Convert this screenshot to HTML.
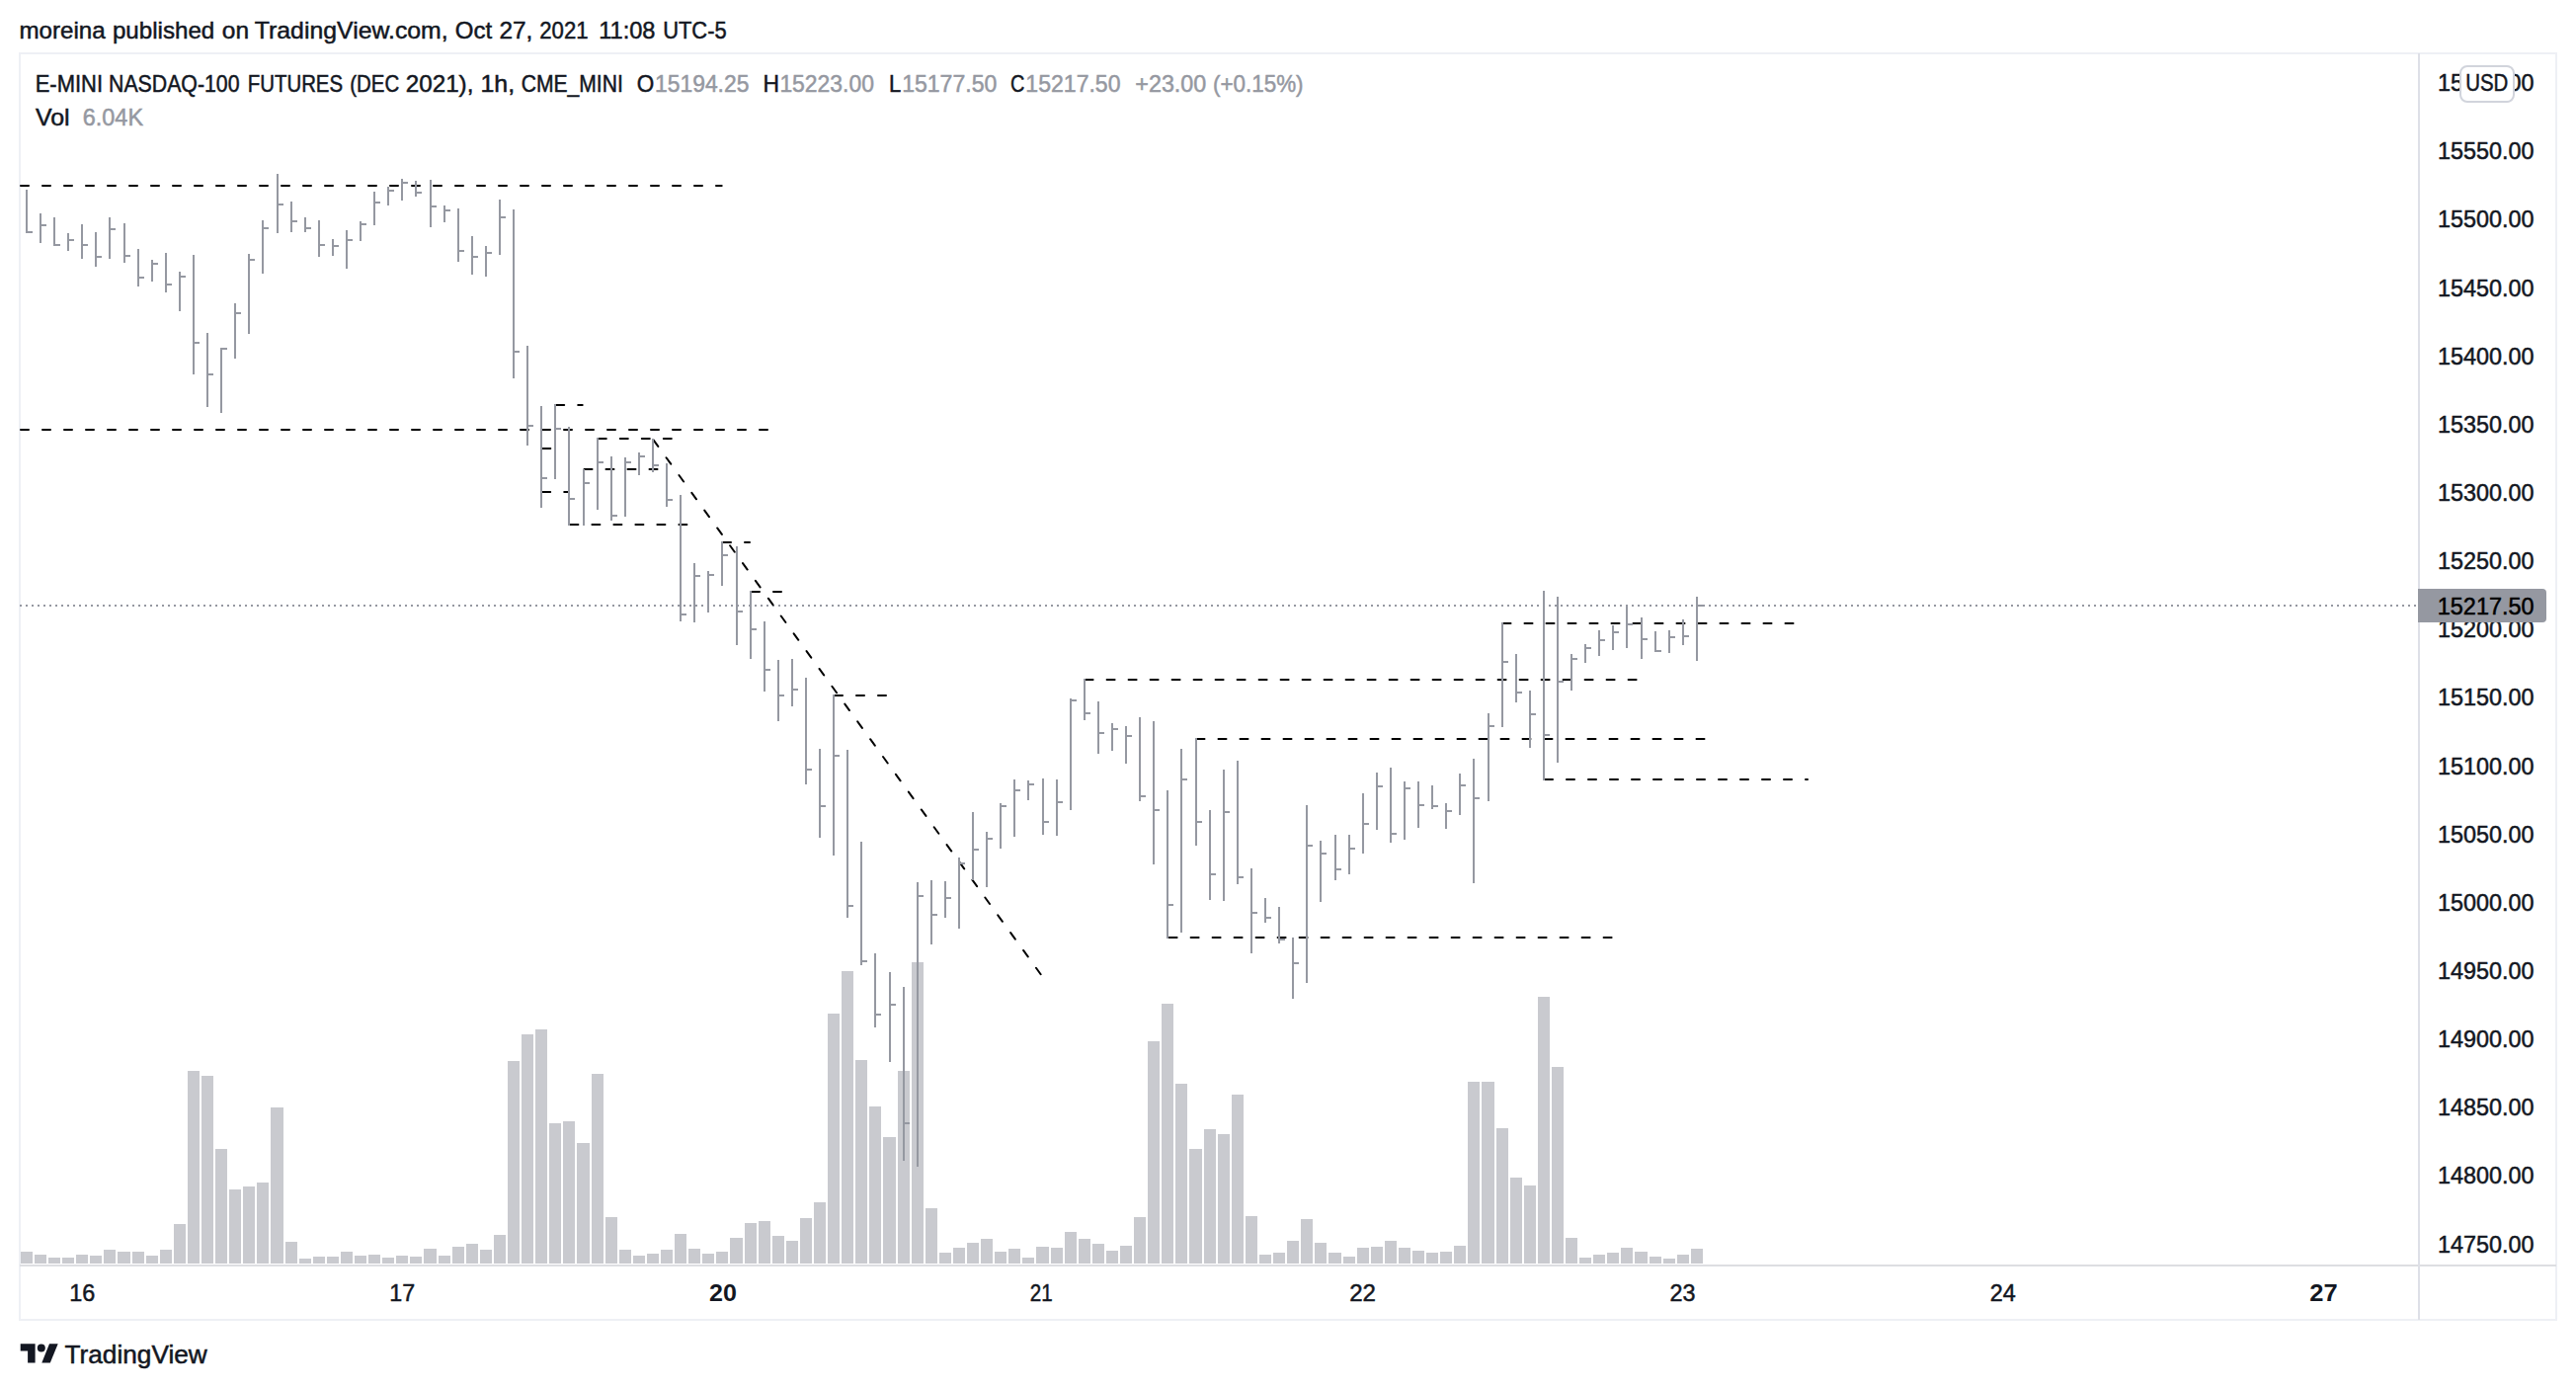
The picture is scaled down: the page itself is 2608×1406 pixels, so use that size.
<!DOCTYPE html>
<html><head><meta charset="utf-8"><title>E-MINI NASDAQ-100 FUTURES</title>
<style>html,body{margin:0;padding:0;background:#fff}svg{display:block}text{font-family:"Liberation Sans", sans-serif}</style></head><body>
<svg width="2608" height="1406" viewBox="0 0 2608 1406">
<rect width="2608" height="1406" fill="#fff"/>
<text y="38.9" font-size="24.5"><tspan x="19.53" fill="#131722" stroke="#131722" stroke-width="0.5" textLength="87.14" lengthAdjust="spacingAndGlyphs">moreina</tspan> <tspan x="113.93" fill="#131722" stroke="#131722" stroke-width="0.5" textLength="103.35" lengthAdjust="spacingAndGlyphs">published</tspan> <tspan x="224.82" fill="#131722" stroke="#131722" stroke-width="0.5" textLength="27.23" lengthAdjust="spacingAndGlyphs">on</tspan> <tspan x="257.8" fill="#131722" stroke="#131722" stroke-width="0.5" textLength="195.88" lengthAdjust="spacingAndGlyphs">TradingView.com,</tspan> <tspan x="460.82" fill="#131722" stroke="#131722" stroke-width="0.5" textLength="37.31" lengthAdjust="spacingAndGlyphs">Oct</tspan> <tspan x="505.38" fill="#131722" stroke="#131722" stroke-width="0.5" textLength="33.92" lengthAdjust="spacingAndGlyphs">27,</tspan> <tspan x="546.29" fill="#131722" stroke="#131722" stroke-width="0.5" textLength="49.3" lengthAdjust="spacingAndGlyphs">2021</tspan> <tspan x="606.13" fill="#131722" stroke="#131722" stroke-width="0.5" textLength="57.4" lengthAdjust="spacingAndGlyphs">11:08</tspan> <tspan x="671.16" fill="#131722" stroke="#131722" stroke-width="0.5" textLength="64.51" lengthAdjust="spacingAndGlyphs">UTC-5</tspan></text>
<rect x="20" y="54" width="2568" height="1282" fill="none" stroke="#eef0f5" stroke-width="2"/>
<rect x="20" y="1280" width="2568" height="2" fill="#dddee2"/>
<rect x="2448" y="54" width="2" height="1282" fill="#dee0e7"/>
<g fill="#c9cacf" shape-rendering="crispEdges">
<rect x="21" y="1267" width="12" height="12"/>
<rect x="35" y="1270" width="12" height="9"/>
<rect x="49" y="1273" width="12" height="6"/>
<rect x="63" y="1273" width="12" height="6"/>
<rect x="77" y="1270" width="12" height="9"/>
<rect x="91" y="1271" width="12" height="8"/>
<rect x="105" y="1265" width="12" height="14"/>
<rect x="119" y="1267" width="13" height="12"/>
<rect x="134" y="1267" width="12" height="12"/>
<rect x="148" y="1271" width="12" height="8"/>
<rect x="162" y="1265" width="12" height="14"/>
<rect x="176" y="1239" width="12" height="40"/>
<rect x="190" y="1084" width="12" height="195"/>
<rect x="204" y="1089" width="12" height="190"/>
<rect x="218" y="1163" width="12" height="116"/>
<rect x="232" y="1204" width="12" height="75"/>
<rect x="246" y="1201" width="12" height="78"/>
<rect x="260" y="1197" width="12" height="82"/>
<rect x="274" y="1121" width="13" height="158"/>
<rect x="289" y="1257" width="12" height="22"/>
<rect x="303" y="1274" width="12" height="5"/>
<rect x="317" y="1272" width="12" height="7"/>
<rect x="331" y="1272" width="12" height="7"/>
<rect x="345" y="1267" width="12" height="12"/>
<rect x="359" y="1271" width="12" height="8"/>
<rect x="373" y="1270" width="12" height="9"/>
<rect x="387" y="1273" width="12" height="6"/>
<rect x="401" y="1271" width="12" height="8"/>
<rect x="415" y="1272" width="12" height="7"/>
<rect x="429" y="1264" width="13" height="15"/>
<rect x="444" y="1271" width="12" height="8"/>
<rect x="458" y="1262" width="12" height="17"/>
<rect x="472" y="1259" width="12" height="20"/>
<rect x="486" y="1265" width="12" height="14"/>
<rect x="500" y="1250" width="12" height="29"/>
<rect x="514" y="1074" width="12" height="205"/>
<rect x="528" y="1047" width="12" height="232"/>
<rect x="542" y="1042" width="12" height="237"/>
<rect x="556" y="1137" width="12" height="142"/>
<rect x="570" y="1135" width="12" height="144"/>
<rect x="584" y="1157" width="13" height="122"/>
<rect x="599" y="1087" width="12" height="192"/>
<rect x="613" y="1232" width="12" height="47"/>
<rect x="627" y="1265" width="12" height="14"/>
<rect x="641" y="1271" width="12" height="8"/>
<rect x="655" y="1269" width="12" height="10"/>
<rect x="669" y="1265" width="12" height="14"/>
<rect x="683" y="1249" width="12" height="30"/>
<rect x="697" y="1264" width="12" height="15"/>
<rect x="711" y="1269" width="12" height="10"/>
<rect x="725" y="1267" width="12" height="12"/>
<rect x="739" y="1253" width="13" height="26"/>
<rect x="754" y="1238" width="12" height="41"/>
<rect x="768" y="1236" width="12" height="43"/>
<rect x="782" y="1251" width="12" height="28"/>
<rect x="796" y="1256" width="12" height="23"/>
<rect x="810" y="1233" width="12" height="46"/>
<rect x="824" y="1217" width="12" height="62"/>
<rect x="838" y="1026" width="12" height="253"/>
<rect x="852" y="983" width="12" height="296"/>
<rect x="866" y="1073" width="12" height="206"/>
<rect x="880" y="1120" width="12" height="159"/>
<rect x="894" y="1151" width="13" height="128"/>
<rect x="909" y="1084" width="12" height="195"/>
<rect x="923" y="974" width="12" height="305"/>
<rect x="937" y="1223" width="12" height="56"/>
<rect x="951" y="1268" width="12" height="11"/>
<rect x="965" y="1263" width="12" height="16"/>
<rect x="979" y="1258" width="12" height="21"/>
<rect x="993" y="1254" width="12" height="25"/>
<rect x="1007" y="1267" width="12" height="12"/>
<rect x="1021" y="1264" width="12" height="15"/>
<rect x="1035" y="1273" width="12" height="6"/>
<rect x="1049" y="1262" width="13" height="17"/>
<rect x="1064" y="1263" width="12" height="16"/>
<rect x="1078" y="1247" width="12" height="32"/>
<rect x="1092" y="1254" width="12" height="25"/>
<rect x="1106" y="1259" width="12" height="20"/>
<rect x="1120" y="1266" width="12" height="13"/>
<rect x="1134" y="1261" width="12" height="18"/>
<rect x="1148" y="1232" width="12" height="47"/>
<rect x="1162" y="1054" width="12" height="225"/>
<rect x="1176" y="1016" width="12" height="263"/>
<rect x="1190" y="1097" width="12" height="182"/>
<rect x="1204" y="1163" width="13" height="116"/>
<rect x="1219" y="1143" width="12" height="136"/>
<rect x="1233" y="1148" width="12" height="131"/>
<rect x="1247" y="1108" width="12" height="171"/>
<rect x="1261" y="1231" width="12" height="48"/>
<rect x="1275" y="1270" width="12" height="9"/>
<rect x="1289" y="1268" width="12" height="11"/>
<rect x="1303" y="1256" width="12" height="23"/>
<rect x="1317" y="1234" width="12" height="45"/>
<rect x="1331" y="1258" width="12" height="21"/>
<rect x="1345" y="1268" width="13" height="11"/>
<rect x="1360" y="1272" width="12" height="7"/>
<rect x="1374" y="1263" width="12" height="16"/>
<rect x="1388" y="1262" width="12" height="17"/>
<rect x="1402" y="1256" width="12" height="23"/>
<rect x="1416" y="1263" width="12" height="16"/>
<rect x="1430" y="1266" width="12" height="13"/>
<rect x="1444" y="1268" width="12" height="11"/>
<rect x="1458" y="1267" width="12" height="12"/>
<rect x="1472" y="1261" width="12" height="18"/>
<rect x="1486" y="1095" width="12" height="184"/>
<rect x="1500" y="1095" width="13" height="184"/>
<rect x="1515" y="1142" width="12" height="137"/>
<rect x="1529" y="1192" width="12" height="87"/>
<rect x="1543" y="1200" width="12" height="79"/>
<rect x="1557" y="1009" width="12" height="270"/>
<rect x="1571" y="1080" width="12" height="199"/>
<rect x="1585" y="1253" width="12" height="26"/>
<rect x="1599" y="1273" width="12" height="6"/>
<rect x="1613" y="1270" width="12" height="9"/>
<rect x="1627" y="1268" width="12" height="11"/>
<rect x="1641" y="1263" width="12" height="16"/>
<rect x="1655" y="1267" width="13" height="12"/>
<rect x="1670" y="1272" width="12" height="7"/>
<rect x="1684" y="1274" width="12" height="5"/>
<rect x="1698" y="1270" width="12" height="9"/>
<rect x="1712" y="1264" width="12" height="15"/>
</g>
<line x1="20" y1="613" x2="2448" y2="613" stroke="#9598a1" stroke-width="2" stroke-dasharray="2 4"/>
<g stroke="#000" stroke-width="2" stroke-dasharray="8 14" stroke-linecap="round" fill="none">
<line x1="21" y1="188" x2="730.7" y2="188"/>
<line x1="21" y1="435" x2="777" y2="435"/>
<line x1="549.3" y1="454" x2="557.3" y2="454"/>
<line x1="549.2" y1="498" x2="576" y2="498"/>
<line x1="563.2" y1="410" x2="589.7" y2="410"/>
<line x1="577.4" y1="531" x2="695.6" y2="531"/>
<line x1="591.5" y1="475" x2="666" y2="475"/>
<line x1="605.8" y1="444" x2="680" y2="444"/>
<line x1="661.6" y1="445.4" x2="1055" y2="988.1"/>
<line x1="732" y1="549" x2="759" y2="549"/>
<line x1="761" y1="599" x2="791.5" y2="599"/>
<line x1="845" y1="704" x2="898" y2="704"/>
<line x1="1098.6" y1="688" x2="1657" y2="688"/>
<line x1="1211.5" y1="748" x2="1726" y2="748"/>
<line x1="1183.6" y1="949" x2="1632" y2="949"/>
<line x1="1521.5" y1="631" x2="1817" y2="631"/>
<line x1="1564" y1="789" x2="1830" y2="789"/>
</g>
<g fill="#9598a1" shape-rendering="crispEdges">
<rect x="26" y="192" width="2" height="44"/>
<rect x="26" y="234" width="7" height="2"/>
<rect x="40" y="216" width="2" height="30"/>
<rect x="40" y="227" width="7" height="2"/>
<rect x="54" y="220" width="2" height="29"/>
<rect x="54" y="247" width="7" height="2"/>
<rect x="68" y="236" width="2" height="18"/>
<rect x="68" y="242" width="7" height="2"/>
<rect x="82" y="227" width="2" height="35"/>
<rect x="82" y="247" width="7" height="2"/>
<rect x="96" y="235" width="2" height="35"/>
<rect x="96" y="259" width="7" height="2"/>
<rect x="110" y="220" width="2" height="42"/>
<rect x="110" y="231" width="7" height="2"/>
<rect x="125" y="226" width="2" height="40"/>
<rect x="125" y="258" width="7" height="2"/>
<rect x="139" y="252" width="2" height="38"/>
<rect x="139" y="280" width="7" height="2"/>
<rect x="153" y="263" width="2" height="22"/>
<rect x="153" y="266" width="7" height="2"/>
<rect x="167" y="256" width="2" height="40"/>
<rect x="167" y="287" width="7" height="2"/>
<rect x="181" y="275" width="2" height="40"/>
<rect x="181" y="279" width="7" height="2"/>
<rect x="195" y="258" width="2" height="121"/>
<rect x="195" y="346" width="7" height="2"/>
<rect x="209" y="337" width="2" height="75"/>
<rect x="209" y="378" width="7" height="2"/>
<rect x="223" y="352" width="2" height="66"/>
<rect x="223" y="352" width="7" height="2"/>
<rect x="237" y="307" width="2" height="56"/>
<rect x="237" y="316" width="7" height="2"/>
<rect x="251" y="257" width="2" height="81"/>
<rect x="251" y="262" width="7" height="2"/>
<rect x="265" y="223" width="2" height="54"/>
<rect x="265" y="230" width="7" height="2"/>
<rect x="280" y="176" width="2" height="60"/>
<rect x="280" y="206" width="7" height="2"/>
<rect x="294" y="204" width="2" height="31"/>
<rect x="294" y="223" width="7" height="2"/>
<rect x="308" y="220" width="2" height="15"/>
<rect x="308" y="230" width="7" height="2"/>
<rect x="322" y="223" width="2" height="37"/>
<rect x="322" y="247" width="7" height="2"/>
<rect x="336" y="242" width="2" height="17"/>
<rect x="336" y="248" width="7" height="2"/>
<rect x="350" y="233" width="2" height="39"/>
<rect x="350" y="242" width="7" height="2"/>
<rect x="364" y="224" width="2" height="20"/>
<rect x="364" y="226" width="7" height="2"/>
<rect x="378" y="194" width="2" height="34"/>
<rect x="378" y="204" width="7" height="2"/>
<rect x="392" y="189" width="2" height="19"/>
<rect x="392" y="192" width="7" height="2"/>
<rect x="406" y="181" width="2" height="22"/>
<rect x="406" y="184" width="7" height="2"/>
<rect x="420" y="183" width="2" height="16"/>
<rect x="420" y="194" width="7" height="2"/>
<rect x="435" y="182" width="2" height="48"/>
<rect x="435" y="208" width="7" height="2"/>
<rect x="449" y="208" width="2" height="17"/>
<rect x="449" y="212" width="7" height="2"/>
<rect x="463" y="211" width="2" height="54"/>
<rect x="463" y="253" width="7" height="2"/>
<rect x="477" y="239" width="2" height="39"/>
<rect x="477" y="259" width="7" height="2"/>
<rect x="491" y="249" width="2" height="31"/>
<rect x="491" y="255" width="7" height="2"/>
<rect x="505" y="202" width="2" height="56"/>
<rect x="505" y="219" width="7" height="2"/>
<rect x="519" y="212" width="2" height="171"/>
<rect x="519" y="355" width="7" height="2"/>
<rect x="533" y="350" width="2" height="101"/>
<rect x="533" y="430" width="7" height="2"/>
<rect x="547" y="411" width="2" height="103"/>
<rect x="547" y="483" width="7" height="2"/>
<rect x="561" y="409" width="2" height="76"/>
<rect x="561" y="433" width="7" height="2"/>
<rect x="575" y="432" width="2" height="100"/>
<rect x="575" y="504" width="7" height="2"/>
<rect x="590" y="475" width="2" height="57"/>
<rect x="590" y="488" width="7" height="2"/>
<rect x="604" y="443" width="2" height="73"/>
<rect x="604" y="467" width="7" height="2"/>
<rect x="618" y="462" width="2" height="65"/>
<rect x="618" y="521" width="7" height="2"/>
<rect x="632" y="463" width="2" height="60"/>
<rect x="632" y="467" width="7" height="2"/>
<rect x="646" y="458" width="2" height="23"/>
<rect x="646" y="461" width="7" height="2"/>
<rect x="660" y="444" width="2" height="34"/>
<rect x="660" y="470" width="7" height="2"/>
<rect x="674" y="469" width="2" height="44"/>
<rect x="674" y="505" width="7" height="2"/>
<rect x="688" y="501" width="2" height="128"/>
<rect x="688" y="621" width="7" height="2"/>
<rect x="702" y="570" width="2" height="60"/>
<rect x="702" y="582" width="7" height="2"/>
<rect x="716" y="578" width="2" height="42"/>
<rect x="716" y="581" width="7" height="2"/>
<rect x="730" y="548" width="2" height="45"/>
<rect x="730" y="561" width="7" height="2"/>
<rect x="745" y="553" width="2" height="100"/>
<rect x="745" y="618" width="7" height="2"/>
<rect x="759" y="598" width="2" height="69"/>
<rect x="759" y="636" width="7" height="2"/>
<rect x="773" y="629" width="2" height="71"/>
<rect x="773" y="677" width="7" height="2"/>
<rect x="787" y="668" width="2" height="62"/>
<rect x="787" y="703" width="7" height="2"/>
<rect x="801" y="667" width="2" height="48"/>
<rect x="801" y="697" width="7" height="2"/>
<rect x="815" y="686" width="2" height="108"/>
<rect x="815" y="778" width="7" height="2"/>
<rect x="829" y="758" width="2" height="90"/>
<rect x="829" y="815" width="7" height="2"/>
<rect x="843" y="703" width="2" height="163"/>
<rect x="843" y="764" width="7" height="2"/>
<rect x="857" y="759" width="2" height="170"/>
<rect x="857" y="916" width="7" height="2"/>
<rect x="871" y="852" width="2" height="125"/>
<rect x="871" y="972" width="7" height="2"/>
<rect x="885" y="965" width="2" height="75"/>
<rect x="885" y="1026" width="7" height="2"/>
<rect x="900" y="984" width="2" height="91"/>
<rect x="900" y="1016" width="7" height="2"/>
<rect x="914" y="999" width="2" height="176"/>
<rect x="914" y="1136" width="7" height="2"/>
<rect x="928" y="893" width="2" height="288"/>
<rect x="928" y="906" width="7" height="2"/>
<rect x="942" y="891" width="2" height="65"/>
<rect x="942" y="925" width="7" height="2"/>
<rect x="956" y="892" width="2" height="37"/>
<rect x="956" y="908" width="7" height="2"/>
<rect x="970" y="868" width="2" height="72"/>
<rect x="970" y="873" width="7" height="2"/>
<rect x="984" y="822" width="2" height="69"/>
<rect x="984" y="859" width="7" height="2"/>
<rect x="998" y="842" width="2" height="56"/>
<rect x="998" y="848" width="7" height="2"/>
<rect x="1012" y="813" width="2" height="46"/>
<rect x="1012" y="815" width="7" height="2"/>
<rect x="1026" y="789" width="2" height="58"/>
<rect x="1026" y="799" width="7" height="2"/>
<rect x="1040" y="790" width="2" height="20"/>
<rect x="1040" y="793" width="7" height="2"/>
<rect x="1055" y="788" width="2" height="57"/>
<rect x="1055" y="831" width="7" height="2"/>
<rect x="1069" y="789" width="2" height="57"/>
<rect x="1069" y="811" width="7" height="2"/>
<rect x="1083" y="707" width="2" height="113"/>
<rect x="1083" y="708" width="7" height="2"/>
<rect x="1097" y="687" width="2" height="42"/>
<rect x="1097" y="721" width="7" height="2"/>
<rect x="1111" y="710" width="2" height="53"/>
<rect x="1111" y="741" width="7" height="2"/>
<rect x="1125" y="732" width="2" height="28"/>
<rect x="1125" y="737" width="7" height="2"/>
<rect x="1139" y="735" width="2" height="38"/>
<rect x="1139" y="744" width="7" height="2"/>
<rect x="1153" y="726" width="2" height="85"/>
<rect x="1153" y="805" width="7" height="2"/>
<rect x="1167" y="730" width="2" height="145"/>
<rect x="1167" y="819" width="7" height="2"/>
<rect x="1181" y="800" width="2" height="150"/>
<rect x="1181" y="915" width="7" height="2"/>
<rect x="1195" y="758" width="2" height="186"/>
<rect x="1195" y="788" width="7" height="2"/>
<rect x="1210" y="747" width="2" height="109"/>
<rect x="1210" y="831" width="7" height="2"/>
<rect x="1224" y="820" width="2" height="91"/>
<rect x="1224" y="884" width="7" height="2"/>
<rect x="1238" y="779" width="2" height="133"/>
<rect x="1238" y="821" width="7" height="2"/>
<rect x="1252" y="770" width="2" height="125"/>
<rect x="1252" y="887" width="7" height="2"/>
<rect x="1266" y="879" width="2" height="86"/>
<rect x="1266" y="923" width="7" height="2"/>
<rect x="1280" y="909" width="2" height="25"/>
<rect x="1280" y="928" width="7" height="2"/>
<rect x="1294" y="918" width="2" height="37"/>
<rect x="1294" y="950" width="7" height="2"/>
<rect x="1308" y="949" width="2" height="62"/>
<rect x="1308" y="974" width="7" height="2"/>
<rect x="1322" y="815" width="2" height="180"/>
<rect x="1322" y="855" width="7" height="2"/>
<rect x="1336" y="851" width="2" height="62"/>
<rect x="1336" y="863" width="7" height="2"/>
<rect x="1351" y="845" width="2" height="46"/>
<rect x="1351" y="879" width="7" height="2"/>
<rect x="1365" y="845" width="2" height="40"/>
<rect x="1365" y="858" width="7" height="2"/>
<rect x="1379" y="803" width="2" height="61"/>
<rect x="1379" y="833" width="7" height="2"/>
<rect x="1393" y="782" width="2" height="58"/>
<rect x="1393" y="795" width="7" height="2"/>
<rect x="1407" y="777" width="2" height="76"/>
<rect x="1407" y="843" width="7" height="2"/>
<rect x="1421" y="791" width="2" height="59"/>
<rect x="1421" y="797" width="7" height="2"/>
<rect x="1435" y="791" width="2" height="47"/>
<rect x="1435" y="814" width="7" height="2"/>
<rect x="1449" y="795" width="2" height="24"/>
<rect x="1449" y="815" width="7" height="2"/>
<rect x="1463" y="813" width="2" height="26"/>
<rect x="1463" y="820" width="7" height="2"/>
<rect x="1477" y="783" width="2" height="42"/>
<rect x="1477" y="794" width="7" height="2"/>
<rect x="1491" y="768" width="2" height="126"/>
<rect x="1491" y="807" width="7" height="2"/>
<rect x="1506" y="722" width="2" height="89"/>
<rect x="1506" y="734" width="7" height="2"/>
<rect x="1520" y="630" width="2" height="106"/>
<rect x="1520" y="669" width="7" height="2"/>
<rect x="1534" y="662" width="2" height="49"/>
<rect x="1534" y="700" width="7" height="2"/>
<rect x="1548" y="699" width="2" height="58"/>
<rect x="1548" y="722" width="7" height="2"/>
<rect x="1562" y="598" width="2" height="192"/>
<rect x="1562" y="743" width="7" height="2"/>
<rect x="1576" y="604" width="2" height="168"/>
<rect x="1576" y="689" width="7" height="2"/>
<rect x="1590" y="662" width="2" height="37"/>
<rect x="1590" y="666" width="7" height="2"/>
<rect x="1604" y="652" width="2" height="19"/>
<rect x="1604" y="655" width="7" height="2"/>
<rect x="1618" y="638" width="2" height="26"/>
<rect x="1618" y="647" width="7" height="2"/>
<rect x="1632" y="633" width="2" height="25"/>
<rect x="1632" y="639" width="7" height="2"/>
<rect x="1646" y="612" width="2" height="44"/>
<rect x="1646" y="631" width="7" height="2"/>
<rect x="1661" y="625" width="2" height="42"/>
<rect x="1661" y="646" width="7" height="2"/>
<rect x="1675" y="639" width="2" height="21"/>
<rect x="1675" y="658" width="7" height="2"/>
<rect x="1689" y="638" width="2" height="23"/>
<rect x="1689" y="644" width="7" height="2"/>
<rect x="1703" y="627" width="2" height="26"/>
<rect x="1703" y="643" width="7" height="2"/>
<rect x="1717" y="604" width="2" height="65"/>
<rect x="1717" y="612" width="7" height="2"/>
</g>
<text y="93" font-size="24"><tspan x="35.74" fill="#131722" stroke="#131722" stroke-width="0.5" textLength="68.25" lengthAdjust="spacingAndGlyphs">E-MINI</tspan> <tspan x="110.0" fill="#131722" stroke="#131722" stroke-width="0.5" textLength="132.55" lengthAdjust="spacingAndGlyphs">NASDAQ-100</tspan> <tspan x="250.77" fill="#131722" stroke="#131722" stroke-width="0.5" textLength="96.3" lengthAdjust="spacingAndGlyphs">FUTURES</tspan> <tspan x="354.27" fill="#131722" stroke="#131722" stroke-width="0.5" textLength="49.93" lengthAdjust="spacingAndGlyphs">(DEC</tspan> <tspan x="410.79" fill="#131722" stroke="#131722" stroke-width="0.5" textLength="68.58" lengthAdjust="spacingAndGlyphs">2021),</tspan> <tspan x="486.53" fill="#131722" stroke="#131722" stroke-width="0.5" textLength="34.61" lengthAdjust="spacingAndGlyphs">1h,</tspan> <tspan x="527.75" fill="#131722" stroke="#131722" stroke-width="0.5" textLength="103.04" lengthAdjust="spacingAndGlyphs">CME_MINI</tspan></text>
<text y="93" font-size="24"><tspan x="644.69" fill="#131722" stroke="#131722" stroke-width="0.5" textLength="17.49" lengthAdjust="spacingAndGlyphs">O</tspan><tspan x="662.98" fill="#9598a1" stroke="#9598a1" stroke-width="0.5" textLength="95.46" lengthAdjust="spacingAndGlyphs">15194.25</tspan> <tspan x="772.47" fill="#131722" stroke="#131722" stroke-width="0.5" textLength="16.51" lengthAdjust="spacingAndGlyphs">H</tspan><tspan x="789.38" fill="#9598a1" stroke="#9598a1" stroke-width="0.5" textLength="95.54" lengthAdjust="spacingAndGlyphs">15223.00</tspan> <tspan x="899.94" fill="#131722" stroke="#131722" stroke-width="0.5" textLength="12.25" lengthAdjust="spacingAndGlyphs">L</tspan><tspan x="913.17" fill="#9598a1" stroke="#9598a1" stroke-width="0.5" textLength="96.16" lengthAdjust="spacingAndGlyphs">15177.50</tspan> <tspan x="1022.91" fill="#131722" stroke="#131722" stroke-width="0.5" textLength="14.33" lengthAdjust="spacingAndGlyphs">C</tspan><tspan x="1038.37" fill="#9598a1" stroke="#9598a1" stroke-width="0.5" textLength="96.16" lengthAdjust="spacingAndGlyphs">15217.50</tspan> <tspan x="1149.34" fill="#9598a1" stroke="#9598a1" stroke-width="0.5" textLength="71.92" lengthAdjust="spacingAndGlyphs">+23.00</tspan> <tspan x="1227.95" fill="#9598a1" stroke="#9598a1" stroke-width="0.5" textLength="91.6" lengthAdjust="spacingAndGlyphs">(+0.15%)</tspan></text>
<text y="126.9" font-size="24"><tspan x="35.98" fill="#131722" stroke="#131722" stroke-width="0.5" textLength="34.65" lengthAdjust="spacingAndGlyphs">Vol</tspan> <tspan x="83.83" fill="#9598a1" stroke="#9598a1" stroke-width="0.5" textLength="61.18" lengthAdjust="spacingAndGlyphs">6.04K</tspan></text>
<text x="2468.05" y="92.0" font-size="23.8" fill="#131722" stroke="#131722" stroke-width="0.5" textLength="97.39" lengthAdjust="spacingAndGlyphs">15600.00</text>
<text x="2468.05" y="161.2" font-size="23.8" fill="#131722" stroke="#131722" stroke-width="0.5" textLength="97.39" lengthAdjust="spacingAndGlyphs">15550.00</text>
<text x="2468.05" y="230.3" font-size="23.8" fill="#131722" stroke="#131722" stroke-width="0.5" textLength="97.39" lengthAdjust="spacingAndGlyphs">15500.00</text>
<text x="2468.05" y="299.5" font-size="23.8" fill="#131722" stroke="#131722" stroke-width="0.5" textLength="97.39" lengthAdjust="spacingAndGlyphs">15450.00</text>
<text x="2468.05" y="368.6" font-size="23.8" fill="#131722" stroke="#131722" stroke-width="0.5" textLength="97.39" lengthAdjust="spacingAndGlyphs">15400.00</text>
<text x="2468.05" y="437.8" font-size="23.8" fill="#131722" stroke="#131722" stroke-width="0.5" textLength="97.39" lengthAdjust="spacingAndGlyphs">15350.00</text>
<text x="2468.05" y="506.9" font-size="23.8" fill="#131722" stroke="#131722" stroke-width="0.5" textLength="97.39" lengthAdjust="spacingAndGlyphs">15300.00</text>
<text x="2468.05" y="576.1" font-size="23.8" fill="#131722" stroke="#131722" stroke-width="0.5" textLength="97.39" lengthAdjust="spacingAndGlyphs">15250.00</text>
<text x="2468.05" y="645.2" font-size="23.8" fill="#131722" stroke="#131722" stroke-width="0.5" textLength="97.39" lengthAdjust="spacingAndGlyphs">15200.00</text>
<text x="2468.05" y="714.4" font-size="23.8" fill="#131722" stroke="#131722" stroke-width="0.5" textLength="97.39" lengthAdjust="spacingAndGlyphs">15150.00</text>
<text x="2468.05" y="783.5" font-size="23.8" fill="#131722" stroke="#131722" stroke-width="0.5" textLength="97.39" lengthAdjust="spacingAndGlyphs">15100.00</text>
<text x="2468.05" y="852.7" font-size="23.8" fill="#131722" stroke="#131722" stroke-width="0.5" textLength="97.39" lengthAdjust="spacingAndGlyphs">15050.00</text>
<text x="2468.05" y="921.8" font-size="23.8" fill="#131722" stroke="#131722" stroke-width="0.5" textLength="97.39" lengthAdjust="spacingAndGlyphs">15000.00</text>
<text x="2468.05" y="991.0" font-size="23.8" fill="#131722" stroke="#131722" stroke-width="0.5" textLength="97.39" lengthAdjust="spacingAndGlyphs">14950.00</text>
<text x="2468.05" y="1060.1" font-size="23.8" fill="#131722" stroke="#131722" stroke-width="0.5" textLength="97.39" lengthAdjust="spacingAndGlyphs">14900.00</text>
<text x="2468.05" y="1129.2" font-size="23.8" fill="#131722" stroke="#131722" stroke-width="0.5" textLength="97.39" lengthAdjust="spacingAndGlyphs">14850.00</text>
<text x="2468.05" y="1198.4" font-size="23.8" fill="#131722" stroke="#131722" stroke-width="0.5" textLength="97.39" lengthAdjust="spacingAndGlyphs">14800.00</text>
<text x="2468.05" y="1267.6" font-size="23.8" fill="#131722" stroke="#131722" stroke-width="0.5" textLength="97.39" lengthAdjust="spacingAndGlyphs">14750.00</text>
<path d="M2448 596h126a4 4 0 0 1 4 4v26a4 4 0 0 1-4 4h-126z" fill="#9598a1"/>
<text x="2467.85" y="621.9" font-size="23.8" fill="#000" stroke="#000" stroke-width="0.5" textLength="97.6" lengthAdjust="spacingAndGlyphs">15217.50</text>
<rect x="2491" y="67" width="54" height="36" rx="7" fill="#fff" stroke="#d1d4dc" stroke-width="2"/>
<text x="2496.27" y="92.2" font-size="24" fill="#131722" stroke="#131722" stroke-width="0.5" textLength="43.08" lengthAdjust="spacingAndGlyphs">USD</text>
<text x="70.34" y="1317.0" font-size="24" fill="#131722" stroke="#131722" stroke-width="0.5" textLength="26.05" lengthAdjust="spacingAndGlyphs">16</text>
<text x="394.26" y="1317.0" font-size="24" fill="#131722" stroke="#131722" stroke-width="0.5" textLength="25.86" lengthAdjust="spacingAndGlyphs">17</text>
<text x="718.12" y="1317.0" font-size="24" fill="#131722" stroke="#131722" stroke-width="0" textLength="27.84" lengthAdjust="spacingAndGlyphs" font-weight="bold">20</text>
<text x="1042.77" y="1317.0" font-size="24" fill="#131722" stroke="#131722" stroke-width="0.5" textLength="22.9" lengthAdjust="spacingAndGlyphs">21</text>
<text x="1366.2" y="1317.0" font-size="24" fill="#131722" stroke="#131722" stroke-width="0.5" textLength="26.76" lengthAdjust="spacingAndGlyphs">22</text>
<text x="1690.43" y="1317.0" font-size="24" fill="#131722" stroke="#131722" stroke-width="0.5" textLength="25.95" lengthAdjust="spacingAndGlyphs">23</text>
<text x="2014.73" y="1317.0" font-size="24" fill="#131722" stroke="#131722" stroke-width="0.5" textLength="26.01" lengthAdjust="spacingAndGlyphs">24</text>
<text x="2338.31" y="1317.0" font-size="24" fill="#131722" stroke="#131722" stroke-width="0" textLength="28.37" lengthAdjust="spacingAndGlyphs" font-weight="bold">27</text>
<g fill="#131722"><path d="M20.7 1360.2h14.9v19.4h-7.5v-12h-7.4z"/><circle cx="41.8" cy="1364.4" r="4"/><path d="M50 1360.2h8.7l-7.9 19.4h-8.5z"/></g>
<text x="65.48" y="1380.4" font-size="25.5" fill="#131722" stroke="#131722" stroke-width="0.5" textLength="144.28" lengthAdjust="spacingAndGlyphs">TradingView</text>
</svg></body></html>
